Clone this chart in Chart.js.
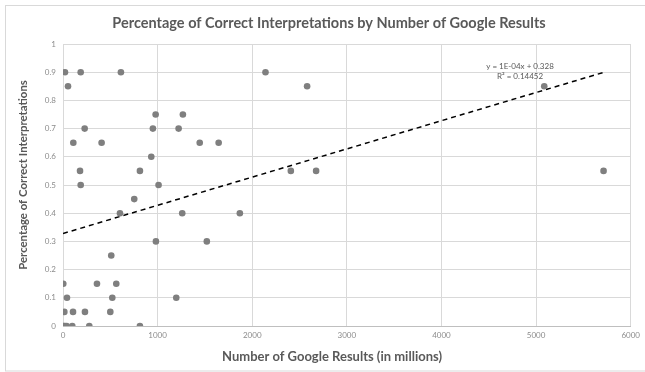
<!DOCTYPE html>
<html>
<head>
<meta charset="utf-8">
<script src="https://cdn.jsdelivr.net/npm/chart.js@4"></script>
<style>
  body { margin: 0; background: #fff; }
  #wrap { position: relative; width: 645px; height: 372px; }
</style>
</head>
<body>
<div id="wrap"><canvas id="scatterChart" width="645" height="372"></canvas></div>
<script>
// Number of Google results (millions) and share of correct interpretations
const googleResults = [21, 187, 612, 53, 979, 1267, 229, 950, 1222, 109, 408, 1445, 1645, 933, 180, 813, 187, 1010,
    753, 602, 1260, 982, 1520, 510, 3, 359, 563, 42, 521, 1197, 14, 106, 232, 500, 5, 20, 38, 98, 278, 813,
    2140, 2580, 2408, 2675, 1869, 5086, 5713];
const correctShare = [0.9, 0.9, 0.9, 0.85, 0.75, 0.75, 0.7, 0.7, 0.7, 0.65, 0.65, 0.65, 0.65, 0.6, 0.55, 0.55, 0.5, 0.5,
    0.45, 0.4, 0.4, 0.3, 0.3, 0.25, 0.15, 0.15, 0.15, 0.1, 0.1, 0.1, 0.05, 0.05, 0.05, 0.05, 0, 0, 0, 0, 0, 0,
    0.9, 0.85, 0.55, 0.55, 0.4, 0.85, 0.55];

// linear trendline shown in the chart
const trendSlope = 0.0001;
const trendIntercept = 0.328;
const trendLabels = ['y = 1E-04x + 0.328', 'R\u00B2 = 0.14452'];

const xTicks = [0, 1000, 2000, 3000, 4000, 5000, 6000];
const yTicks = [0, 0.1, 0.2, 0.3, 0.4, 0.5, 0.6, 0.7, 0.8, 0.9, 1];

const chartTitle = 'Percentage of Correct Interpretations by Number of Google Results';
const xTitle = 'Number of Google Results (in millions)';
const yTitle = 'Percentage of Correct Interpretations';

const points = googleResults.map((x, i) => ({ x: x, y: correctShare[i] }));
const xEnd = Math.max(...googleResults);
const trendPoints = [
    { x: 0, y: trendIntercept },
    { x: xEnd, y: trendIntercept + trendSlope * xEnd }
];

// frame, titles (Excel puts them slightly off the plot centre) and trendline equation
const extras = {
    id: 'extras',
    beforeDraw(chart) {
        const c = chart.ctx;
        c.save();
        c.strokeStyle = '#d9d9d9';
        c.lineWidth = 1;
        c.strokeRect(5.5, 5.5, 700, 365.5);
        c.restore();
    },
    afterDraw(chart) {
        const c = chart.ctx;
        c.save();
        c.fillStyle = '#595959';
        c.textAlign = 'center';
        c.textBaseline = 'middle';
        c.font = 'bold 14.5px Lato';
        c.fillText(chartTitle, 329, 23.5);
        c.font = 'bold 13px Lato';
        c.fillText(xTitle, 332, 356.5);
        c.translate(23, 175);
        c.rotate(-Math.PI / 2);
        c.font = 'bold 11.4px Lato';
        c.fillText(yTitle, 0, 0);
        c.restore();
    },
    afterDatasetsDraw(chart) {
        const c = chart.ctx;
        const xs = chart.scales.x, ys = chart.scales.y;
        c.save();
        c.font = '8px Lato';
        c.fillStyle = '#595959';
        c.textAlign = 'center';
        c.textBaseline = 'middle';
        const px = xs.getPixelForValue(4830);
        c.fillText(trendLabels[0], px, ys.getPixelForValue(0.922));
        c.fillText(trendLabels[1], px, ys.getPixelForValue(0.884));
        c.restore();
    }
};

new Chart(document.getElementById('scatterChart').getContext('2d'), {
    type: 'scatter',
    data: {
        datasets: [{
            label: 'Results',
            data: points,
            backgroundColor: '#7f7f7f',
            borderWidth: 0,
            pointRadius: 3.3
        }, {
            type: 'line',
            label: 'Trend',
            data: trendPoints,
            borderColor: '#000',
            borderWidth: 1.5,
            borderDash: [5, 4],
            pointRadius: 0,
            fill: false
        }]
    },
    options: {
        responsive: false,
        animation: false,
        layout: { padding: { left: 0, right: 14, top: 44, bottom: 0 } },
        plugins: {
            legend: { display: false },
            tooltip: { enabled: false },
            title: { display: false }
        },
        scales: {
            x: {
                type: 'linear',
                min: 0,
                max: 6000,
                afterBuildTicks: s => { s.ticks = xTicks.map(v => ({ value: v })); },
                afterFit: s => { s.height = 46; },
                ticks: {
                    color: '#8c8c8c',
                    font: { family: 'Lato', size: 8 },
                    padding: 5,
                    callback: v => String(v)
                },
                grid: { color: '#d9d9d9', drawTicks: false },
                border: { color: '#bfbfbf' }
            },
            y: {
                min: 0,
                max: 1,
                afterBuildTicks: s => { s.ticks = yTicks.map(v => ({ value: v })); },
                afterFit: s => { s.width = 63; },
                ticks: {
                    color: '#8c8c8c',
                    font: { family: 'Lato', size: 8 },
                    padding: 7,
                    callback: v => String(v)
                },
                grid: { color: '#d9d9d9', drawTicks: false },
                border: { display: false }
            }
        }
    },
    plugins: [extras]
});
</script>
</body>
</html>
